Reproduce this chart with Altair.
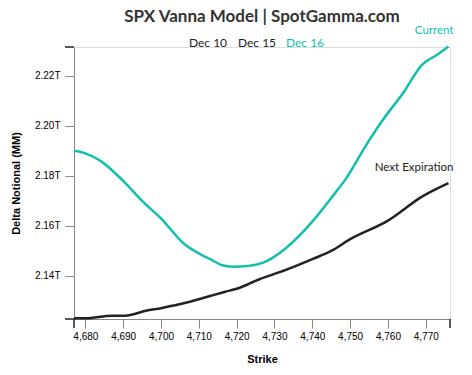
import altair as alt
import pandas as pd

# --- data ---
cur_strike = [4677, 4680, 4684, 4690, 4695, 4700, 4706, 4710, 4713, 4716, 4719,
              4723, 4727, 4733, 4740, 4746, 4749, 4754, 4759, 4764, 4769, 4773, 4776]
cur_value = [2.190, 2.189, 2.186, 2.178, 2.170, 2.163, 2.153, 2.149, 2.1467, 2.1444, 2.1437,
             2.1440, 2.1453, 2.1511, 2.1617, 2.1731, 2.1791, 2.1917, 2.2031, 2.2131, 2.2244,
             2.2284, 2.2317]

next_strike = [4677, 4680, 4687, 4690, 4693, 4696, 4700, 4703, 4706, 4710, 4713,
               4717, 4720, 4726, 4733, 4740, 4745, 4750, 4760, 4769, 4776]
next_value = [2.1231, 2.1231, 2.1241, 2.1241, 2.1248, 2.1261, 2.1271, 2.1281, 2.1291, 2.1307,
              2.1320, 2.1337, 2.1349, 2.1387, 2.1424, 2.1467, 2.1500, 2.1547, 2.1621, 2.1717,
              2.1771]

series_names = ["Current", "Next Expiration"]
series_colors = ["#12bfae", "#222222"]

legend_labels = ["Dec 10", "Dec 15", "Dec 16"]
legend_colors = ["#222222", "#222222", "#12bfae"]

x_ticks = [4680, 4690, 4700, 4710, 4720, 4730, 4740, 4750, 4760, 4770]
y_ticks = [2.14, 2.16, 2.18, 2.20, 2.22]
x_domain = [4677, 4776.4]
y_domain = [2.1228, 2.2315]

FONT = "Lato"
AXIS_COLOR = "#222222"

df = pd.concat([
    pd.DataFrame({"strike": cur_strike, "value": cur_value, "series": series_names[0]}),
    pd.DataFrame({"strike": next_strike, "value": next_value, "series": series_names[1]}),
])
ends = pd.DataFrame({
    "strike": [cur_strike[-1], next_strike[-1]],
    "value": [cur_value[-1], next_value[-1]],
    "series": series_names,
})

color_scale = alt.Scale(domain=series_names, range=series_colors)
x_scale = alt.Scale(domain=x_domain, nice=False, zero=False)
y_scale = alt.Scale(domain=y_domain, nice=False, zero=False)

x_axis = alt.Axis(values=x_ticks, labelExpr="format(datum.value, ',')",
                  title="Strike", grid=False, tickSize=9, labelPadding=3,
                  titlePadding=12, labelOverlap=False)
y_axis = alt.Axis(values=y_ticks, labelExpr="format(datum.value, '.2f') + 'T'",
                  title="Delta Notional (MM)", grid=False, tickSize=9, labelPadding=5,
                  titlePadding=13, labelOverlap=False)


def X():
    return alt.X("strike:Q", scale=x_scale, axis=x_axis)


def Y():
    return alt.Y("value:Q", scale=y_scale, axis=y_axis)


lines = alt.Chart(df).mark_line(strokeWidth=2.5, interpolate="monotone").encode(
    x=X(), y=Y(),
    color=alt.Color("series:N", scale=color_scale, legend=None),
)

# outer ticks at the ends of both axes
x_end_ticks = alt.Chart(pd.DataFrame({"strike": x_domain})).mark_rule(
    color=AXIS_COLOR, strokeWidth=1.5).encode(
    x=X(), y=alt.value(272), y2=alt.value(281))
y_end_ticks = alt.Chart(pd.DataFrame({"value": y_domain})).mark_rule(
    color=AXIS_COLOR, strokeWidth=1.5).encode(
    y=Y(), x=alt.value(0), x2=alt.value(-9))

end_labels = alt.Chart(ends).mark_text(align="right", baseline="middle", dx=5, dy=-15,
                                       font=FONT, fontSize=11.5).encode(
    x=X(), y=Y(),
    text="series:N",
    color=alt.Color("series:N", scale=color_scale, legend=None),
)

legend_x = [134, 183, 231]
legend_layers = []
for lab, col, lx in zip(legend_labels, legend_colors, legend_x):
    legend_layers.append(
        alt.Chart(pd.DataFrame({"label": [lab]})).mark_text(
            align="center", baseline="middle", font=FONT, fontSize=12, color=col
        ).encode(x=alt.value(lx), y=alt.value(-4), text="label:N")
    )

chart = alt.layer(lines, x_end_ticks, y_end_ticks, end_labels, *legend_layers).properties(
    width=376, height=272,
    autosize=alt.AutoSizeParams(type="none"),
    padding={"left": 66, "top": 39, "right": 14, "bottom": 48},
    title=alt.TitleParams("SPX Vanna Model | SpotGamma.com", font=FONT, fontSize=17,
                          fontWeight="bold", color="#333333", anchor="middle", offset=1,
                          dy=2),
).configure_view(stroke=None).configure_axis(
    domainColor=AXIS_COLOR, tickColor=AXIS_COLOR, domainWidth=1.5, tickWidth=1.5,
    labelFont=FONT, labelFontSize=11.5, labelColor="#333333",
    titleFont=FONT, titleFontSize=12, titleFontWeight="bold", titleColor="#333333",
).configure(background="white")

chart.save("out.html", embed_options={"renderer": "svg", "actions": False})
